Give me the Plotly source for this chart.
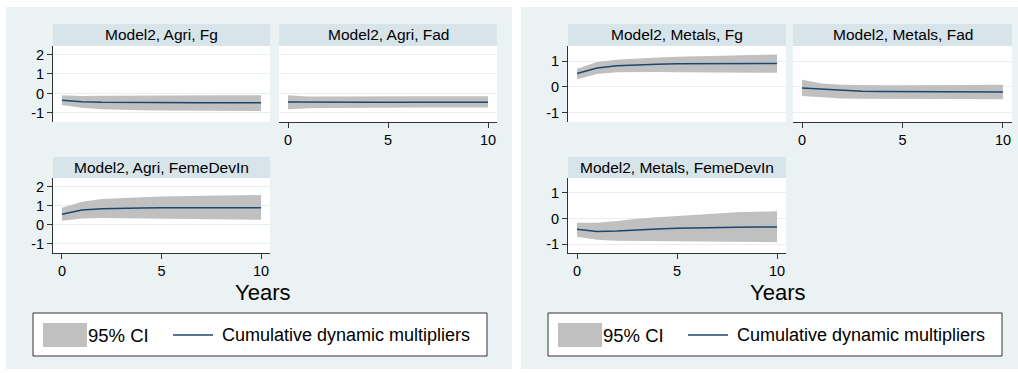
import plotly.graph_objects as go

W, H = 1018, 373

years = list(range(11))
x_ticks = [0, 5, 10]
agri_y_ticks = [-1, 0, 1, 2]
metals_y_ticks = [-1, 0, 1]

titles = ["Model2, Agri, Fg", "Model2, Agri, Fad", "Model2, Agri, FemeDevIn",
          "Model2, Metals, Fg", "Model2, Metals, Fad", "Model2, Metals, FemeDevIn"]

agri_fg_irf = [-0.35, -0.43, -0.46, -0.47, -0.47, -0.48, -0.48, -0.48, -0.48, -0.48, -0.48]
agri_fg_hi = [-0.09, -0.13, -0.12, -0.11, -0.10, -0.10, -0.09, -0.09, -0.09, -0.09, -0.09]
agri_fg_lo = [-0.60, -0.74, -0.81, -0.85, -0.87, -0.88, -0.89, -0.90, -0.90, -0.91, -0.91]

agri_fad_irf = [-0.44, -0.45, -0.45, -0.45, -0.45, -0.45, -0.45, -0.45, -0.45, -0.45, -0.45]
agri_fad_hi = [-0.09, -0.16, -0.16, -0.15, -0.15, -0.15, -0.14, -0.14, -0.14, -0.14, -0.14]
agri_fad_lo = [-0.82, -0.76, -0.75, -0.74, -0.74, -0.74, -0.74, -0.73, -0.73, -0.73, -0.73]

agri_feme_irf = [0.55, 0.77, 0.84, 0.87, 0.88, 0.89, 0.89, 0.89, 0.89, 0.89, 0.89]
agri_feme_hi = [0.89, 1.20, 1.34, 1.40, 1.44, 1.47, 1.50, 1.52, 1.53, 1.54, 1.55]
agri_feme_lo = [0.21, 0.33, 0.36, 0.35, 0.34, 0.32, 0.30, 0.29, 0.28, 0.27, 0.26]

metals_fg_irf = [0.52, 0.73, 0.82, 0.86, 0.88, 0.90, 0.90, 0.91, 0.91, 0.91, 0.91]
metals_fg_hi = [0.70, 0.96, 1.05, 1.10, 1.14, 1.17, 1.19, 1.21, 1.23, 1.24, 1.25]
metals_fg_lo = [0.30, 0.50, 0.57, 0.58, 0.58, 0.57, 0.57, 0.56, 0.56, 0.55, 0.55]

metals_fad_irf = [-0.04, -0.08, -0.13, -0.16, -0.17, -0.17, -0.18, -0.18, -0.19, -0.19, -0.19]
metals_fad_hi = [0.28, 0.13, 0.09, 0.07, 0.07, 0.07, 0.07, 0.08, 0.08, 0.08, 0.09]
metals_fad_lo = [-0.35, -0.40, -0.44, -0.45, -0.45, -0.45, -0.46, -0.46, -0.46, -0.47, -0.47]

metals_feme_irf = [-0.42, -0.51, -0.49, -0.44, -0.41, -0.38, -0.36, -0.35, -0.34, -0.33, -0.33]
metals_feme_hi = [-0.17, -0.17, -0.10, -0.01, 0.05, 0.10, 0.15, 0.20, 0.24, 0.26, 0.28]
metals_feme_lo = [-0.72, -0.83, -0.87, -0.88, -0.89, -0.90, -0.91, -0.91, -0.92, -0.92, -0.93]

legend_labels = ["95% CI", "Cumulative dynamic multipliers"]
x_title = "Years"

# ---- styling ----
PANEL_BG = "#EAF2F3"
STRIP_BG = "#D7E4EA"
GRID = "#E6EFF1"
BAND = "#C0C0C0"
NAVY = "#1A476F"
AXIS = "#333333"
FONT = "Liberation Sans, Arial, sans-serif"

def fx(px):
    return px / W

def fy(py):
    return 1 - py / H

agri_range = [-1.47, 2.44]
metals_range = [-1.35, 1.58]

# (title, irf, lo, hi, x0, x1, y0(top px), y1(bottom px), yrange, yticks, show_y, show_x)
subplots = [
    (titles[0], agri_fg_irf, agri_fg_lo, agri_fg_hi, 53, 270, 46, 122, agri_range, agri_y_ticks, True, False),
    (titles[1], agri_fad_irf, agri_fad_lo, agri_fad_hi, 279, 497, 46, 122, agri_range, agri_y_ticks, False, True),
    (titles[2], agri_feme_irf, agri_feme_lo, agri_feme_hi, 53, 270, 178, 253, agri_range, agri_y_ticks, True, True),
    (titles[3], metals_fg_irf, metals_fg_lo, metals_fg_hi, 568, 786, 46, 122, metals_range, metals_y_ticks, True, False),
    (titles[4], metals_fad_irf, metals_fad_lo, metals_fad_hi, 793, 1012, 46, 122, metals_range, metals_y_ticks, False, True),
    (titles[5], metals_feme_irf, metals_feme_lo, metals_feme_hi, 568, 786, 178, 253, metals_range, metals_y_ticks, True, True),
]

fig = go.Figure()
layout = dict(
    width=W, height=H, margin=dict(l=0, r=0, t=0, b=0),
    paper_bgcolor=PANEL_BG, plot_bgcolor="white", showlegend=False,
    font=dict(family=FONT, color="black"),
)
shapes = []
annotations = []

# white gaps around / between the two panels
for (a, b, c, d) in [(0, 0, W, 7), (0, 0, 6, H), (512, 0, 521, H), (0, 369, W, H)]:
    shapes.append(dict(type="rect", xref="paper", yref="paper", x0=fx(a), x1=fx(c),
                       y0=fy(d), y1=fy(b), fillcolor="white", line=dict(width=0), layer="below"))

for i, (title, irf, lo, hi, x0, x1, y0, y1, yr, yt, show_y, show_x) in enumerate(subplots):
    n = i + 1
    xa = "x" if n == 1 else f"x{n}"
    ya = "y" if n == 1 else f"y{n}"
    fig.add_trace(go.Scatter(x=years, y=lo, mode="lines", line=dict(width=0, color=BAND),
                             xaxis=xa, yaxis=ya, hoverinfo="skip"))
    fig.add_trace(go.Scatter(x=years, y=hi, mode="lines", line=dict(width=0, color=BAND),
                             fill="tonexty", fillcolor=BAND, xaxis=xa, yaxis=ya, hoverinfo="skip"))
    fig.add_trace(go.Scatter(x=years, y=irf, mode="lines", line=dict(width=1.5, color=NAVY),
                             xaxis=xa, yaxis=ya))
    xkey = "xaxis" if n == 1 else f"xaxis{n}"
    ykey = "yaxis" if n == 1 else f"yaxis{n}"
    layout[xkey] = dict(
        domain=[fx(x0), fx(x1)], anchor=ya, range=[-0.45, 10.45], fixedrange=True,
        showgrid=False, zeroline=False, tickvals=x_ticks, ticktext=[str(v) for v in x_ticks],
        showline=show_x, linecolor=AXIS, linewidth=1,
        ticks="outside" if show_x else "", ticklen=5, tickcolor=AXIS, tickwidth=1,
        showticklabels=show_x, tickfont=dict(size=14.5, family=FONT, color="black"),
    )
    layout[ykey] = dict(
        domain=[fy(y1), fy(y0)], anchor=xa, range=yr, fixedrange=True,
        showgrid=True, gridcolor=GRID, gridwidth=1, zeroline=False,
        tickvals=yt, ticktext=[str(v) for v in yt],
        showline=show_y, linecolor=AXIS, linewidth=1,
        ticks="outside" if show_y else "", ticklen=5, tickcolor=AXIS, tickwidth=1,
        showticklabels=show_y, tickfont=dict(size=14.5, family=FONT, color="black"),
    )
    # strip title
    st = 24 if y0 == 46 else 157
    shapes.append(dict(type="rect", xref="paper", yref="paper", x0=fx(x0), x1=fx(x1),
                       y0=fy(y0), y1=fy(st), fillcolor=STRIP_BG, line=dict(width=0), layer="below"))
    annotations.append(dict(text=title, xref="paper", yref="paper", x=fx((x0 + x1) / 2),
                            y=fy((st + y0) / 2), xanchor="center", yanchor="middle",
                            showarrow=False, font=dict(size=15.5, family=FONT, color="black")))

# x titles and legends for both panels
for off, xc in [(0, 262), (515, 777)]:
    annotations.append(dict(text=x_title, xref="paper", yref="paper", x=fx(xc), y=fy(292),
                            xanchor="center", yanchor="middle", showarrow=False,
                            font=dict(size=22, family=FONT, color="black")))
    shapes.append(dict(type="rect", xref="paper", yref="paper", x0=fx(33 + off), x1=fx(487 + off),
                       y0=fy(356), y1=fy(313), fillcolor="white",
                       line=dict(width=1, color=AXIS), layer="below"))
    shapes.append(dict(type="rect", xref="paper", yref="paper", x0=fx(43 + off), x1=fx(87 + off),
                       y0=fy(347), y1=fy(323), fillcolor=BAND, line=dict(width=0), layer="below"))
    shapes.append(dict(type="line", xref="paper", yref="paper", x0=fx(173 + off), x1=fx(213 + off),
                       y0=fy(335), y1=fy(335), line=dict(width=1.5, color=NAVY), layer="below"))
    annotations.append(dict(text=legend_labels[0], xref="paper", yref="paper", x=fx(86 + off), y=fy(335),
                            xanchor="left", yanchor="middle", showarrow=False,
                            font=dict(size=18.5, family=FONT, color="black")))
    annotations.append(dict(text=legend_labels[1], xref="paper", yref="paper", x=fx(220 + off), y=fy(335),
                            xanchor="left", yanchor="middle", showarrow=False,
                            font=dict(size=18, family=FONT, color="black")))

layout["shapes"] = shapes
layout["annotations"] = annotations
fig.update_layout(**layout)
fig.write_html("out.html", config={"displayModeBar": False})
